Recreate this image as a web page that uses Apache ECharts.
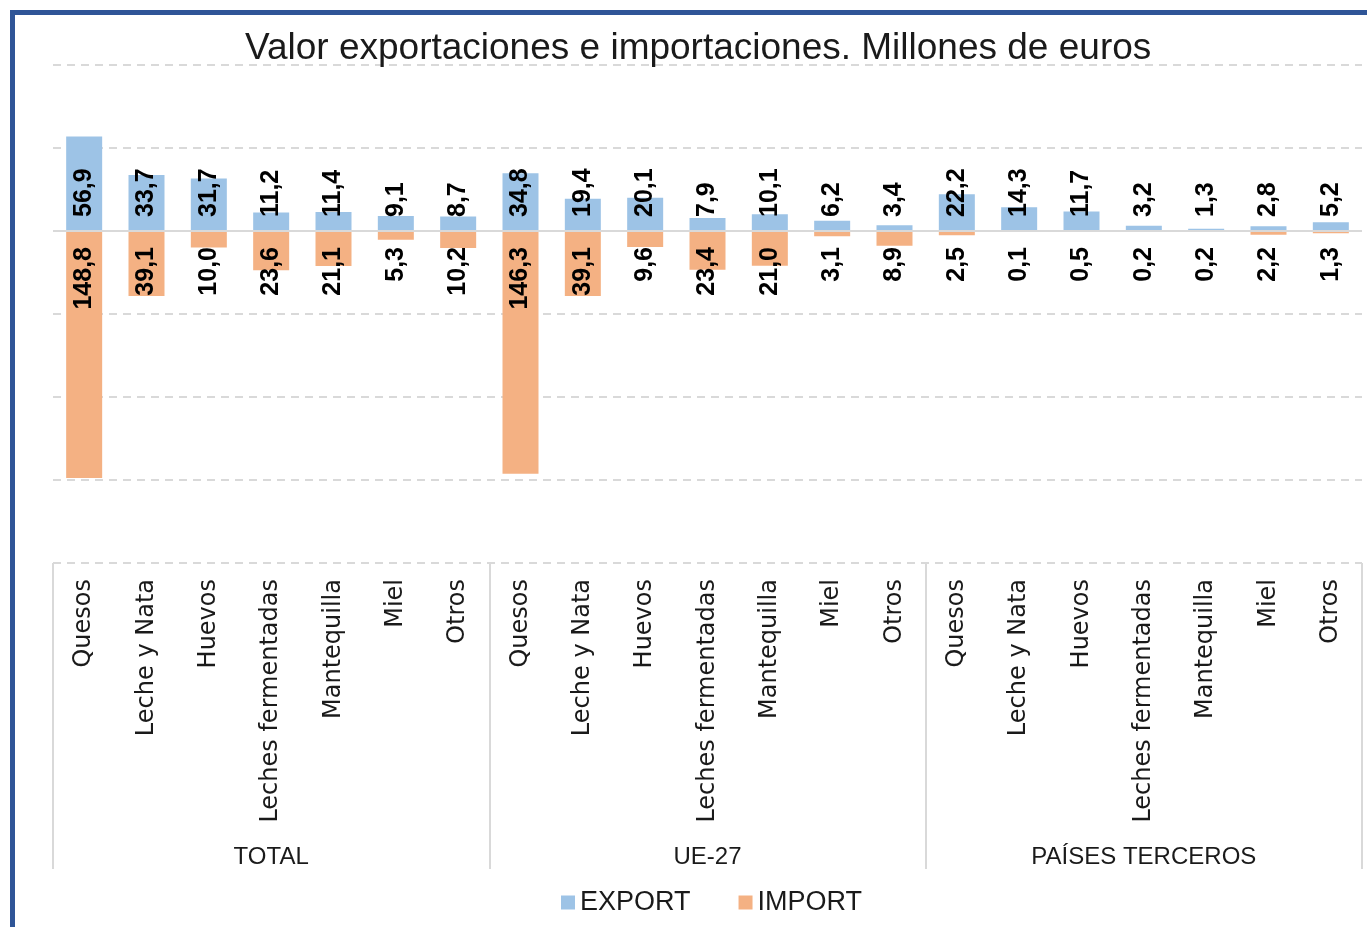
<!DOCTYPE html>
<html>
<head>
<meta charset="utf-8">
<script src="https://cdn.jsdelivr.net/npm/echarts@6/dist/echarts.min.js"></script>
<style>
  html, body { margin: 0; padding: 0; width: 1367px; height: 927px; overflow: hidden; background: #fff; }
  #frame { position: absolute; left: 10px; top: 10px; width: 1500px; height: 1100px;
           border-left: 5px solid #2F5597; border-top: 5px solid #2F5597; box-sizing: border-box; }
  #chart { position: absolute; left: 0; top: 0; width: 1367px; height: 927px; }
</style>
</head>
<body>
<div id="frame"></div>
<div id="chart"></div>
<script>
const title = 'Valor exportaciones e importaciones. Millones de euros';
const groups = ['TOTAL', 'UE-27', 'PAÍSES TERCEROS'];
const products = ['Quesos', 'Leche y Nata', 'Huevos', 'Leches fermentadas', 'Mantequilla', 'Miel', 'Otros'];
const exportTotal = [56.9, 33.7, 31.7, 11.2, 11.4, 9.1, 8.7];
const importTotal = [148.8, 39.1, 10.0, 23.6, 21.1, 5.3, 10.2];
const exportUE = [34.8, 19.4, 20.1, 7.9, 10.1, 6.2, 3.4];
const importUE = [146.3, 39.1, 9.6, 23.4, 21.0, 3.1, 8.9];
const exportPT = [22.2, 14.3, 11.7, 3.2, 1.3, 2.8, 5.2];
const importPT = [2.5, 0.1, 0.5, 0.2, 0.2, 2.2, 1.3];

const categories = [].concat(products, products, products);
const exportVals = [].concat(exportTotal, exportUE, exportPT);
const importVals = [].concat(importTotal, importUE, importPT).map(v => -v);

const fmt = v => Math.abs(v).toFixed(1).replace('.', ',');

const chart = echarts.init(document.getElementById('chart'), null, { renderer: 'canvas' });
chart.setOption({
  backgroundColor: 'transparent',
  animation: false,
  title: {
    text: title, left: 240, top: 25,
    textStyle: { fontFamily: 'Liberation Sans, Arial, sans-serif', fontSize: 37, fontWeight: 'normal', color: '#1a1a1a' }
  },
  legend: {
    bottom: 6, left: 556, itemGap: 48, itemWidth: 14, itemHeight: 14, icon: 'rect',
    textStyle: { fontFamily: 'Liberation Sans, Arial, sans-serif', fontSize: 27, color: '#1a1a1a' },
    data: ['EXPORT', 'IMPORT']
  },
  grid: { left: 53, right: 5, top: 65, bottom: 364, containLabel: false },
  xAxis: [
    {
      type: 'category', data: categories, position: 'bottom',
      axisLine: { show: false }, axisTick: { show: false },
      axisLabel: { interval: 0, rotate: 90, margin: 16, fontFamily: 'DejaVu Sans, Verdana, sans-serif', fontSize: 24, color: '#1a1a1a' }
    },
    {
      type: 'category', data: groups, position: 'bottom',
      axisLine: { show: false },
      axisTick: { show: true, length: 306, lineStyle: { color: '#d9d9d9', width: 2 } },
      axisLabel: { interval: 0, margin: 282, fontFamily: 'Liberation Sans, Arial, sans-serif', fontSize: 24, color: '#1a1a1a' }
    }
  ],
  yAxis: {
    type: 'value', min: -200, max: 100, interval: 50,
    axisLabel: { show: false }, axisLine: { show: false }, axisTick: { show: false },
    splitLine: { show: true, lineStyle: { color: '#d9d9d9', width: 2, type: [8, 6] } }
  },
  series: [
    {
      name: 'EXPORT', type: 'bar', stack: 'total', data: exportVals, barWidth: 36,
      itemStyle: { color: '#9DC3E6' },
      label: {
        show: true, position: 'insideBottom', rotate: 90, align: 'left', verticalAlign: 'middle', distance: 14,
        formatter: p => fmt(p.value),
        fontFamily: 'Liberation Sans, Arial, sans-serif', fontSize: 25, fontWeight: 'bold', color: '#000'
      },
      markLine: {
        silent: true, symbol: 'none', label: { show: false },
        lineStyle: { color: '#d9d9d9', width: 2, type: 'solid' },
        data: [{ yAxis: 0 }]
      }
    },
    {
      name: 'IMPORT', type: 'bar', stack: 'total', data: importVals, barWidth: 36,
      itemStyle: { color: '#F4B183' },
      label: {
        show: true, position: 'insideTop', rotate: 90, align: 'right', verticalAlign: 'middle', distance: 16,
        formatter: p => fmt(p.value),
        fontFamily: 'Liberation Sans, Arial, sans-serif', fontSize: 25, fontWeight: 'bold', color: '#000'
      }
    }
  ]
});
</script>
</body>
</html>
